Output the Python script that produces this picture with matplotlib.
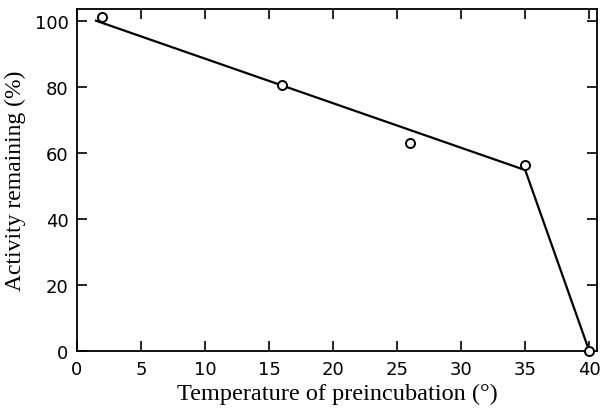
import matplotlib
matplotlib.use("Agg")
import matplotlib.pyplot as plt

# Data
temp_points = [2, 16, 26, 35, 40]
activity_points = [101, 80.5, 63, 56.3, 0]
fit_temp = [1.5, 35, 40]
fit_activity = [100, 54.8, 0]
xticks = [0, 5, 10, 15, 20, 25, 30, 35, 40]
yticks = [0, 20, 40, 60, 80, 100]

fig = plt.figure(figsize=(6, 4.1), dpi=100)
ax = fig.add_axes([0.128, 0.141, 0.867, 0.835])

ax.plot(fit_temp, fit_activity, color="black", lw=1.6, zorder=2)
ax.plot(temp_points, activity_points, linestyle="none", marker="o", ms=6.5,
        mfc="white", mec="black", mew=1.4, zorder=3, clip_on=False)

ax.set_xlim(0, 40.6)
ax.set_ylim(0, 103.6)
ax.set_xticks(xticks)
ax.set_yticks(yticks)
ax.tick_params(direction="in", length=7, width=1.2, top=True, right=True,
               labelsize=13, pad=6)
for lab in ax.get_xticklabels() + ax.get_yticklabels():
    lab.set_family("DejaVu Sans")
for s in ax.spines.values():
    s.set_linewidth(1.3)

ax.set_xlabel("Temperature of preincubation (°)", family="Liberation Serif", fontsize=17.5, labelpad=4)
ax.set_ylabel("Activity remaining (%)", family="Liberation Serif", fontsize=17, labelpad=6)

fig.savefig("out.png", dpi=100)
